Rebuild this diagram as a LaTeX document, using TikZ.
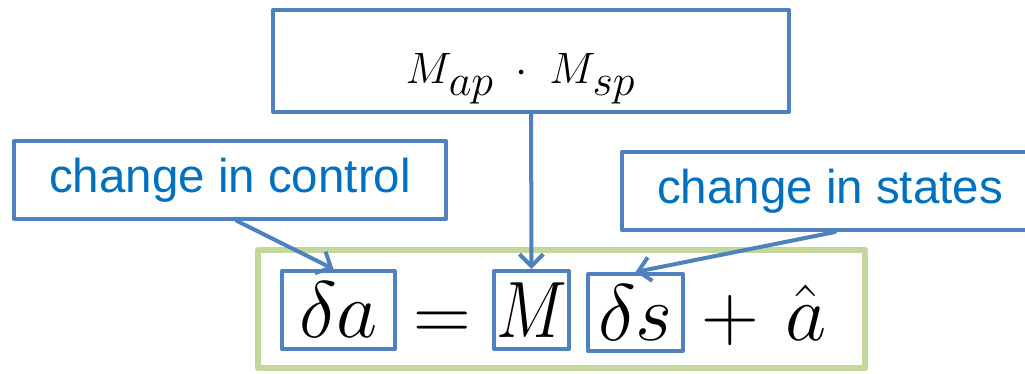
\RequirePackage{fix-cm}
\documentclass[tikz,border=0pt]{standalone}
\usepackage{fontspec}
\newfontfamily\labelfont{Liberation Sans}
\usetikzlibrary{arrows.meta}
\definecolor{boxblue}{HTML}{4F81BD}
\definecolor{textblue}{HTML}{0070C0}
\definecolor{framegreen}{HTML}{C3D69B}
\newcommand{\lowsub}[1]{\kern-3pt\lower12pt\hbox{$#1$}}
\begin{document}
\begin{tikzpicture}[x=1pt,y=-1pt,
  bluebox/.style={draw=boxblue, line width=4pt, line join=round, inner sep=0pt, fill=white},
  labelbox/.style={bluebox, text=textblue, font=\labelfont\fontsize{47.5}{57}\selectfont},
  eqbox/.style={bluebox, minimum height=78pt, font=\fontsize{80}{96}\selectfont},
  eqsym/.style={inner sep=0pt, anchor=base, font=\fontsize{80}{96}\selectfont},
  pointer/.style={draw=boxblue, line width=4pt, line cap=round,
    -{Straight Barb[length=12pt,width=24pt]}}]
\useasboundingbox (0,0) rectangle (1025,373);

% frame around the control law
\node[draw=framegreen, line width=6pt, line join=round, minimum width=607pt,
  minimum height=118pt, inner sep=0pt] (frame) at (561.5,309) {};

% boxed terms of the equation
\node[eqbox, minimum width=113pt] (dabox) at (338.5,310) {$\delta a$};
\node[eqsym] (eq) at (442,340) {$=$};
\node[eqbox, minimum width=75pt] (mbox) at (531.5,310) {\scalebox{0.84}[1]{$M$}};
\node[eqbox, minimum width=95pt, minimum height=77pt] (dsbox) at (635.5,312.5) {$\delta s$};
\node[eqsym] (plus) at (730,340) {$+$};
\node[eqsym] (ahat) at (806,340) {$\hat{a}$};

% explanatory boxes
\node[bluebox, minimum width=516pt, minimum height=102pt, text height=50pt, text depth=6pt,
  font=\fontsize{44}{52}\selectfont] (mprod) at (531,61)
  {\hspace*{-22pt}$M\lowsub{ap}\;\cdot\;M\lowsub{sp}$};
\node[labelbox, minimum width=432pt, minimum height=78pt] (ctrl) at (230,180) {change in control};
\node[labelbox, minimum width=416pt, minimum height=78pt] (states) at (830,191) {change in states};

% pointers
\draw[pointer] (mprod) -- (mbox);
\draw[pointer] ([xshift=7pt]ctrl.south) -- ([xshift=-5pt]dabox.north);
\draw[pointer] ([xshift=5pt]states.south) -- (dsbox.north);
\end{tikzpicture}
\end{document}
